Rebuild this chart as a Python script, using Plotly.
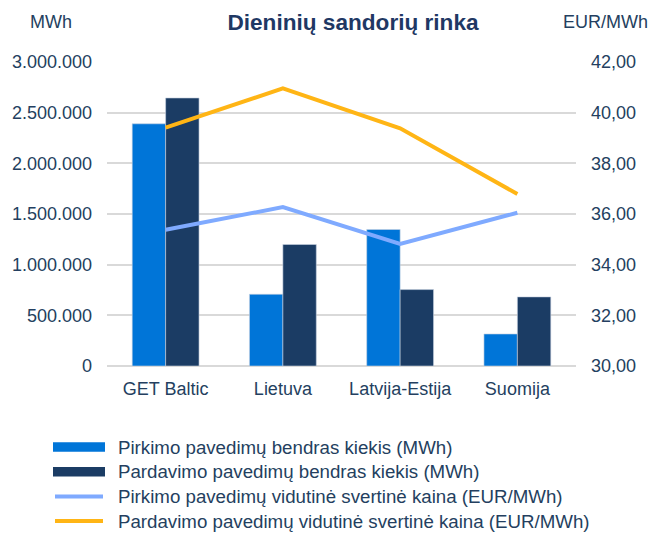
import plotly.graph_objects as go

categories = ["GET Baltic", "Lietuva", "Latvija-Estija", "Suomija"]
buy_volume = [2390000, 708000, 1347000, 316000]
sell_volume = [2645000, 1199000, 754000, 682000]
buy_price = [35.38, 36.27, 34.82, 36.05]
sell_price = [39.41, 40.96, 39.38, 36.79]

names = [
    "Pirkimo pavedimų bendras kiekis (MWh)",
    "Pardavimo pavedimų bendras kiekis (MWh)",
    "Pirkimo pavedimų vidutinė svertinė kaina (EUR/MWh)",
    "Pardavimo pavedimų vidutinė svertinė kaina (EUR/MWh)",
]
colors = ["#0075D8", "#1B3C64", "#7FAAFF", "#FFB515"]
TXT = "#243F60"
FONT = "Liberation Sans, Arial, sans-serif"

W, H = 650, 534
L, R, T, B = 107, 74, 62, 168
PW, PH = W - L - R, H - T - B

fig = go.Figure()
fig.add_trace(go.Bar(x=categories, y=buy_volume, name=names[0], marker_color=colors[0],
                     marker_line=dict(color="rgba(200,210,225,0.6)", width=1)))
fig.add_trace(go.Bar(x=categories, y=sell_volume, name=names[1], marker_color=colors[1],
                     marker_line=dict(color="rgba(200,210,225,0.6)", width=1)))
fig.add_trace(go.Scatter(x=categories, y=buy_price, name=names[2], mode="lines",
                         line=dict(color=colors[2], width=4), yaxis="y2"))
fig.add_trace(go.Scatter(x=categories, y=sell_price, name=names[3], mode="lines",
                         line=dict(color=colors[3], width=4), yaxis="y2"))

def px(x):
    return (x - L) / PW

def py(y):
    return (H - B - y) / PH

shapes = []
annotations = []
rows = [447, 471.7, 496.4, 521]
for i, (nm, c) in enumerate(zip(names, colors)):
    yc = rows[i]
    if i < 2:
        shapes.append(dict(type="rect", xref="paper", yref="paper",
                           x0=px(53), x1=px(105), y0=py(yc + 4.7), y1=py(yc - 4.7),
                           fillcolor=c, line=dict(width=0), layer="above"))
    else:
        shapes.append(dict(type="line", xref="paper", yref="paper",
                           x0=px(55), x1=px(103), y0=py(yc), y1=py(yc),
                           line=dict(color=c, width=4), layer="above"))
    annotations.append(dict(text=nm, xref="paper", yref="paper", x=px(116), y=py(yc),
                            xanchor="left", yanchor="middle", showarrow=False,
                            font=dict(size=18.7, color=TXT, family=FONT)))

annotations.append(dict(text="MWh", xref="paper", yref="paper", x=px(51), y=py(22),
                        xanchor="center", yanchor="middle", showarrow=False,
                        font=dict(size=18, color=TXT, family=FONT)))
annotations.append(dict(text="EUR/MWh", xref="paper", yref="paper", x=px(605), y=py(22),
                        xanchor="center", yanchor="middle", showarrow=False,
                        font=dict(size=18, color=TXT, family=FONT)))

fig.update_layout(
    width=W, height=H,
    margin=dict(l=L, r=R, t=T, b=B),
    paper_bgcolor="white", plot_bgcolor="white",
    separators=",.",
    showlegend=False,
    barmode="group", bargap=0.43, bargroupgap=0,
    title=dict(text="<b>Dieninių sandorių rinka</b>", x=353 / W, y=1 - 22 / H,
               xanchor="center", yanchor="middle",
               font=dict(size=22.6, color="#1F3864", family=FONT)),
    font=dict(family=FONT, color=TXT, size=18),
    xaxis=dict(showgrid=False, showline=False, ticks="", tickfont=dict(size=18, color=TXT),
               ticklabelstandoff=10),
    yaxis=dict(range=[0, 3000000], dtick=500000, tickformat=",d",
               showgrid=True, gridcolor="#D9D9D9", gridwidth=2,
               zeroline=True, zerolinecolor="#D9D9D9", zerolinewidth=2,
               showline=False, ticks="", ticklabelstandoff=14,
               tickfont=dict(size=18, color=TXT)),
    yaxis2=dict(range=[30, 42], dtick=2, tickformat=".2f", overlaying="y", side="right",
                showgrid=False, zeroline=False, showline=False, ticks="",
                ticklabelstandoff=14, tickfont=dict(size=18, color=TXT)),
    shapes=shapes,
    annotations=annotations,
)

fig.write_html("out.html", config={"displayModeBar": False},
               post_script="document.body.style.margin='0';document.body.style.overflow='hidden';")
